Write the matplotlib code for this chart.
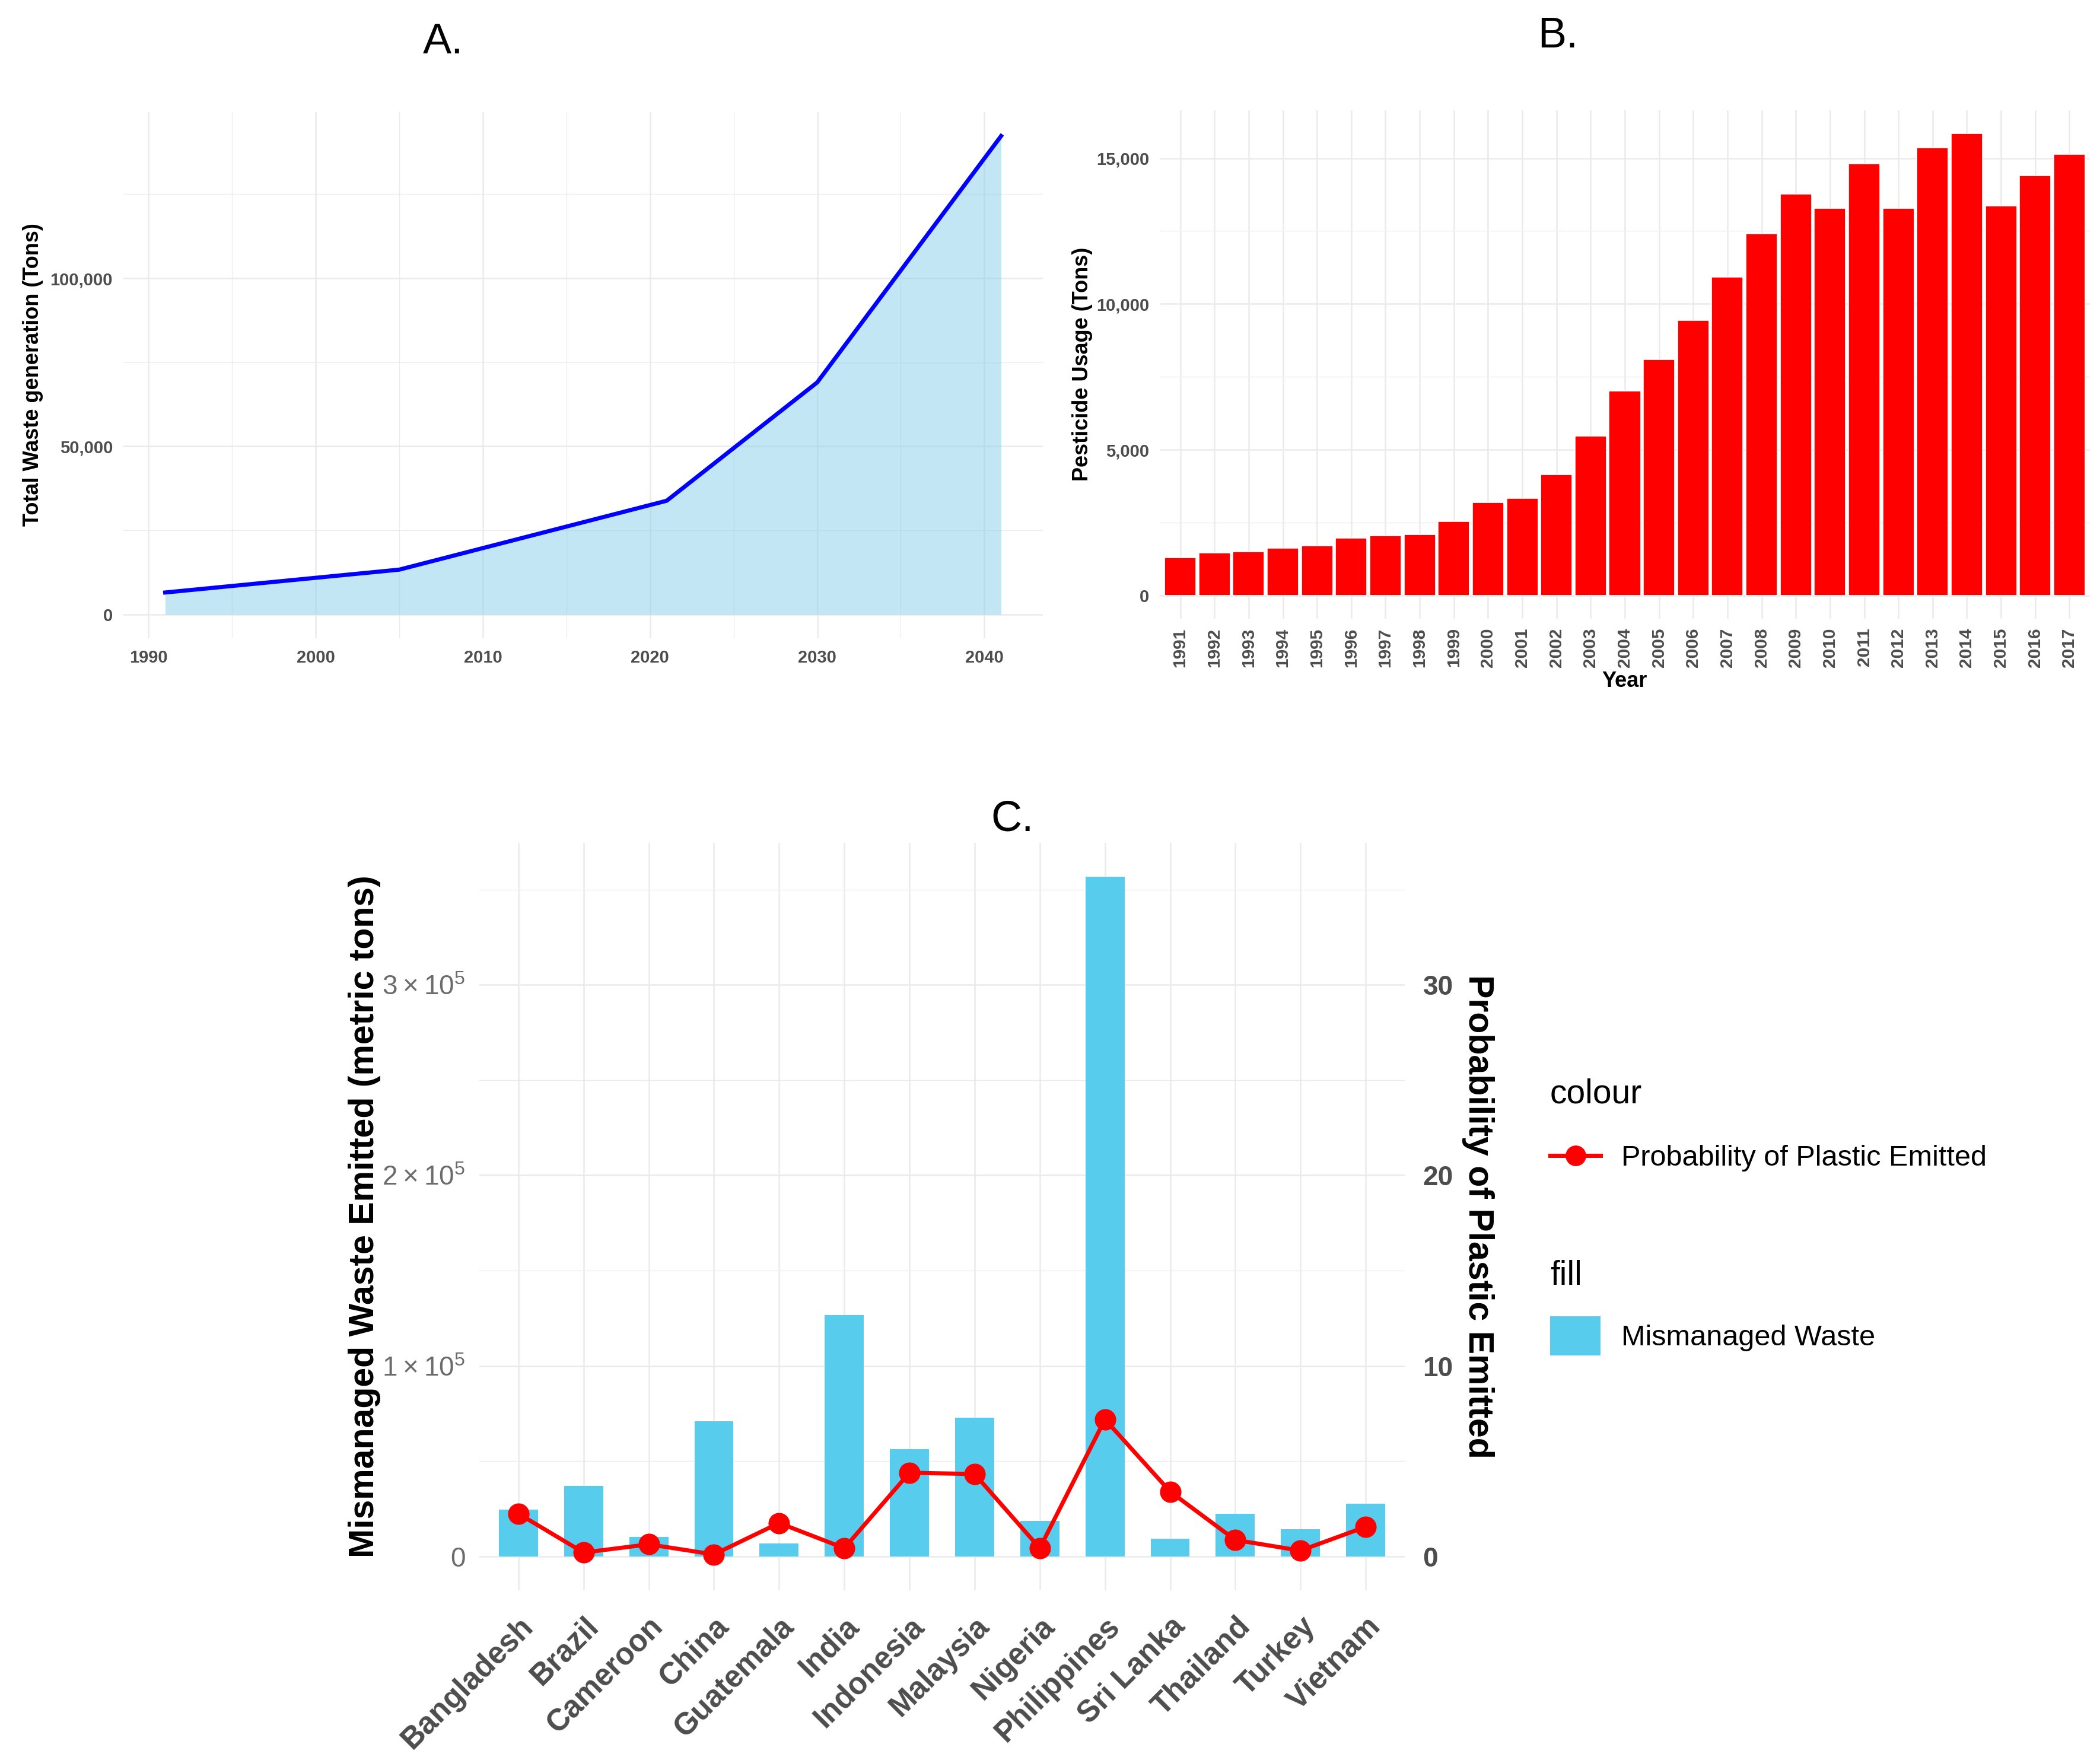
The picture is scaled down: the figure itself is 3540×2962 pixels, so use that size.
import numpy as np
import matplotlib
matplotlib.use('Agg')
import matplotlib.pyplot as plt
from matplotlib.lines import Line2D
from matplotlib.patches import Patch
from matplotlib.ticker import FixedLocator, FuncFormatter

plt.rcParams['font.family'] = ['Liberation Sans', 'DejaVu Sans']
plt.rcParams['mathtext.fontset'] = 'custom'
plt.rcParams['mathtext.rm'] = 'Liberation Sans'

# panel A: total waste generation
waste_years = [1991, 2005, 2021, 2030, 2041]
waste_tons = [6500, 13300, 33800, 69000, 142300]

# panel B: pesticide usage per year
pest_years = [str(y) for y in range(1991, 2018)]
pest_tons = [1295, 1473, 1514, 1636, 1718, 1977, 2045, 2086, 2550, 3204, 3327,
             4159, 5481, 7022, 8099, 9436, 10922, 12408, 13772, 13281, 14808,
             13281, 15354, 15845, 13363, 14399, 15136]

# panel C: mismanaged waste and probability of plastic emitted
countries = ['Bangladesh', 'Brazil', 'Cameroon', 'China', 'Guatemala', 'India',
             'Indonesia', 'Malaysia', 'Nigeria', 'Philippines', 'Sri Lanka',
             'Thailand', 'Turkey', 'Vietnam']
mismanaged = [24400, 36900, 10200, 70900, 6900, 126600, 56400, 72900, 18500,
              356700, 9200, 22400, 14200, 27700]
prob_emitted = [2.24, 0.20, 0.63, 0.10, 1.75, 0.43, 4.39, 4.32, 0.43, 7.19,
                3.40, 0.86, 0.30, 1.55]

W, H = 3541, 2962
DPI = 100
fig = plt.figure(figsize=(W / DPI, H / DPI), dpi=DPI)

GRID = '#ebebeb'
TICK = '#4d4d4d'


def px_axes(l, t, r, b):
    return fig.add_axes([l / W, 1 - b / H, (r - l) / W, (b - t) / H])


def minimal(ax):
    for s in ax.spines.values():
        s.set_visible(False)
    ax.set_axisbelow(True)
    ax.grid(which='major', color=GRID, lw=1.8)
    ax.grid(which='minor', color=GRID, lw=0.9)
    ax.tick_params(which='both', length=0)


# ---------------- A ----------------
axA = px_axes(208, 189, 1758, 1076)
minimal(axA)
axA.fill_between(waste_years, 0, waste_tons, color='#87ceeb', alpha=0.5, lw=0, zorder=2)
axA.plot(waste_years, waste_tons, color='#0000ff', lw=5, zorder=3)
axA.set_xlim(1988.5, 2043.5)
axA.set_ylim(-0.05 * max(waste_tons), 1.05 * max(waste_tons))
axA.xaxis.set_major_locator(FixedLocator(range(1990, 2041, 10)))
axA.xaxis.set_minor_locator(FixedLocator(range(1995, 2041, 10)))
axA.yaxis.set_major_locator(FixedLocator([0, 50000, 100000]))
axA.yaxis.set_minor_locator(FixedLocator([25000, 75000, 125000]))
axA.yaxis.set_major_formatter(FuncFormatter(lambda v, p: f'{v:,.0f}'))
axA.tick_params(axis='both', labelsize=21, labelcolor=TICK)
axA.tick_params(axis='x', pad=14)
axA.tick_params(axis='y', pad=13)
for lab in axA.get_xticklabels() + axA.get_yticklabels():
    lab.set_fontweight('bold')
fig.text(56 / W, 1 - 632 / H, 'Total Waste generation (Tons)', rotation=90,
         ha='center', va='center', fontsize=26, fontweight='bold')
fig.text(747 / W, 1 - 72 / H, 'A.', ha='center', va='center', fontsize=52)

# ---------------- B ----------------
axB = px_axes(1955, 186, 3523, 1043)
minimal(axB)
xb = np.arange(len(pest_years))
axB.bar(xb, pest_tons, width=0.92, color='#ff0000', edgecolor='white', lw=1.2, zorder=2)
axB.set_xlim(-0.6, len(pest_years) - 0.4)
axB.set_ylim(-0.05 * max(pest_tons), 1.05 * max(pest_tons))
axB.set_xticks(xb)
axB.set_xticklabels(pest_years, rotation=90, fontweight='bold')
axB.yaxis.set_major_locator(FixedLocator([0, 5000, 10000, 15000]))
axB.yaxis.set_minor_locator(FixedLocator([2500, 7500, 12500]))
axB.yaxis.set_major_formatter(FuncFormatter(lambda v, p: f'{v:,.0f}'))
axB.tick_params(axis='both', labelcolor=TICK)
axB.tick_params(axis='x', labelsize=21.5, pad=11)
axB.tick_params(axis='y', labelsize=21, pad=13)
for lab in axB.get_yticklabels():
    lab.set_fontweight('bold')
fig.text(1825 / W, 1 - 614 / H, 'Pesticide Usage (Tons)', rotation=90,
         ha='center', va='center', fontsize=26, fontweight='bold')
fig.text(2739 / W, 1 - 1149 / H, 'Year', ha='center', va='center',
         fontsize=26, fontweight='bold')
fig.text(2626 / W, 1 - 61 / H, 'B.', ha='center', va='center', fontsize=52)

# ---------------- C ----------------
axC = px_axes(808, 1421, 2368, 2681)
minimal(axC)
xc = np.arange(len(countries))
bar_col = '#58ccec'
axC.bar(xc, mismanaged, width=0.6, color=bar_col, zorder=2)
axC.set_xlim(-0.6, len(countries) - 0.4)
ylo, yhi = -0.05 * max(mismanaged), 1.05 * max(mismanaged)
axC.set_ylim(ylo, yhi)
axC.set_xticks(xc)
axC.set_xticklabels(countries, rotation=45, ha='right', va='top',
                    rotation_mode='anchor', fontweight='bold', fontsize=37,
                    color=TICK)
axC.tick_params(axis='x', pad=26)
axC.yaxis.set_major_locator(FixedLocator([0, 100000, 200000, 300000]))
axC.yaxis.set_minor_locator(FixedLocator([50000, 150000, 250000, 350000]))
axC.yaxis.set_major_formatter(FuncFormatter(
    lambda v, p: '0' if v == 0 else r'$%d\times10^{5}$' % round(v / 1e5)))
axC.tick_params(axis='y', labelsize=33, labelcolor='#6b6b6b', pad=17)

axC2 = axC.twinx()
for s in axC2.spines.values():
    s.set_visible(False)
axC2.set_ylim(ylo / 10000, yhi / 10000)
axC2.plot(xc, prob_emitted, color='#ff0000', lw=5, marker='o', markersize=25)
axC2.yaxis.set_major_locator(FixedLocator([0, 10, 20, 30]))
axC2.tick_params(axis='y', length=0, labelsize=33, labelcolor=TICK, pad=22)
for lab in axC2.get_yticklabels():
    lab.set_fontweight('bold')

fig.text(614 / W, 1 - 2051 / H, 'Mismanaged Waste Emitted (metric tons)',
         rotation=90, ha='center', va='center', fontsize=42.5, fontweight='bold')
fig.text(2491 / W, 1 - 2051 / H, 'Probability of Plastic Emitted',
         rotation=270, ha='center', va='center', fontsize=42.5, fontweight='bold')
fig.text(1707 / W, 1 - 1382 / H, 'C.', ha='center', va='center', fontsize=52)

leg_kw = dict(loc='upper left', frameon=False, fontsize=35, title_fontsize=41,
              alignment='left', handlelength=1.75, handletextpad=0.72,
              borderpad=0, borderaxespad=0)
fig.legend(handles=[Line2D([], [], color='#ff0000', lw=5, marker='o', markersize=24)],
           labels=['Probability of Plastic Emitted'], title='colour',
           bbox_to_anchor=(2613 / W, 1 - 1818 / H), labelspacing=1.2, **leg_kw)
fig.legend(handles=[Patch(facecolor=bar_col)], labels=['Mismanaged Waste'],
           title='fill', bbox_to_anchor=(2613 / W, 1 - 2124 / H),
           handleheight=1.7, labelspacing=0.85, **leg_kw)

fig.savefig('out.png', dpi=DPI, facecolor='white')
